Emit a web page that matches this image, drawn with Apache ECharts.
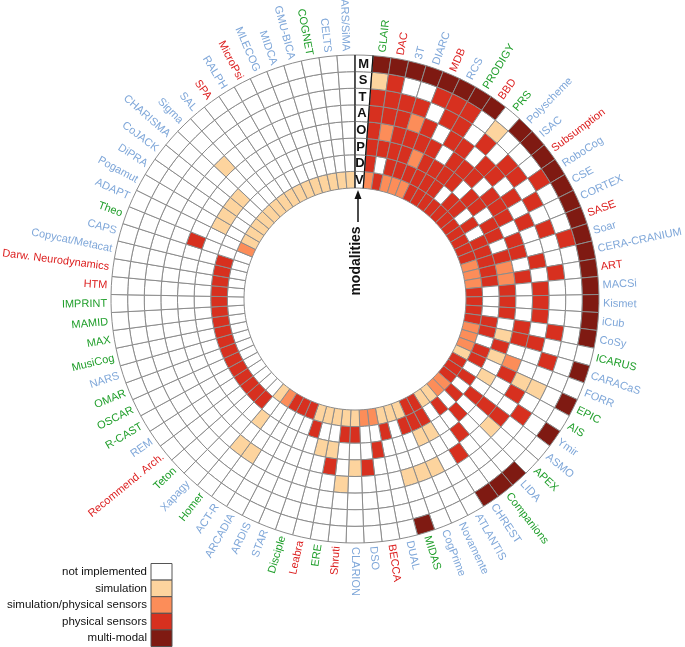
<!DOCTYPE html>
<html><head><meta charset="utf-8">
<script src="https://cdn.jsdelivr.net/npm/echarts@6/dist/echarts.min.js"></script>
<style>html,body{margin:0;padding:0;background:#fff}#c{width:685px;height:647px}</style>
</head><body><div id="c"></div>
<script>
// ---------------- data ----------------
const architectures = ['GLAIR','DAC','3T','DIARC','MDB','RCS','PRODIGY','BBD','PRS','Polyscheme','ISAC','Subsumption','RoboCog','CSE','CORTEX','SASE','Soar','CERA-CRANIUM','ART','MACSi','Kismet','iCub','CoSy','ICARUS','CARACaS','FORR','EPIC','AIS','Ymir','ASMO','APEX','LIDA','Companions','CHREST','ATLANTIS','Novamente','CogPrime','MIDAS','DUAL','BECCA','DSO','CLARION','Shruti','ERE','Leabra','Disciple','STAR','ARDIS','ARCADIA','ACT-R','Homer','Xapagy','Teton','Recommend. Arch.','REM','R-CAST','OSCAR','OMAR','NARS','MusiCog','MAX','MAMID','IMPRINT','HTM','Darw. Neurodynamics','Copycat/Metacat','CAPS','Theo','ADAPT','Pogamut','DiPRA','CoJACK','CHARISMA','Sigma','SAL','SPA','RALPH','MicroPsi','MLECOG','MIDCA','GMU-BICA','COGNET','CELTS','ARS/SiMA'];
// S = symbolic (green), E = emergent (red), H = hybrid (blue)
const archType = ['S','E','H','H','E','H','S','E','S','H','H','E','H','H','H','E','H','H','E','H','H','H','H','S','H','H','S','S','H','H','S','H','S','H','H','H','H','S','H','E','H','H','E','S','E','S','H','H','H','H','S','H','S','E','H','S','S','S','H','S','S','S','S','E','E','H','H','S','H','H','H','H','H','H','H','E','H','E','H','H','H','S','H','H'];
const modalities = ['V','D','P','O','A','T','S','M'];
const levelNames = ['not implemented','simulation','simulation/physical sensors','physical sensors','multi-modal'];
// levels per modality ring, one value per architecture (0..4)
const V = [2,3,2,2,2,3,3,3,3,3, 3,3,3,3,3,3,2,2,2,3, 3,3,3,2,2,2,1,3,3,3, 2,2,1,1,3,3,1,1,1,2, 2,1,1,1,1,1,3,3,3,2, 1,0,0,0,0,0,0,0,0,0, 0,0,0,0,0,0,0,0,2,1, 1,1,1,1,1,1,1,1,1,1, 1,1,1,1];
const D = [3,0,3,3,3,3,3,3,0,3, 3,0,3,0,3,3,3,3,3,0, 0,0,3,3,0,3,3,0,3,0, 3,0,3,0,3,3,3,0,3,0, 0,3,3,0,0,3,0,0,0,0, 0,3,3,3,3,3,3,3,3,3, 3,3,3,3,3,3,3,0,0,0, 0,0,0,0,0,0,0,0,0,0, 0,0,0,0];
const P = [3,3,3,3,2,3,3,3,3,0, 3,3,0,3,3,0,3,2,2,3, 3,3,0,1,3,1,0,1,0,3, 0,3,0,0,1,1,0,0,0,3, 0,0,0,1,1,0,0,0,0,0, 1,0,0,0,0,0,0,0,0,0, 0,0,0,0,0,0,0,0,0,1, 1,1,1,0,0,0,0,0,0,0, 0,0,0,0];
const O = [3,2,3,3,3,3,0,3,3,3, 0,3,3,3,0,3,3,0,3,0, 0,0,3,3,0,2,3,0,0,3, 0,0,3,0,0,0,0,0,0,0, 3,1,0,3,0,0,0,0,0,0, 0,0,0,0,0,0,0,0,0,0, 0,0,0,0,0,0,0,3,0,0, 0,0,0,0,0,0,0,0,0,0, 0,0,0,0];
const A = [3,3,3,2,3,0,3,3,0,3, 3,0,3,0,3,0,0,3,0,3, 3,3,0,3,0,0,1,3,0,3, 1,0,0,3,0,1,1,1,0,0, 0,0,1,0,0,0,0,0,0,1, 1,0,0,0,0,0,0,0,0,0, 0,0,0,0,0,0,0,0,0,0, 0,0,0,1,0,0,0,0,0,0, 0,0,0,0];
const T = [3,3,3,3,0,3,3,0,3,0, 3,3,0,3,0,3,0,0,3,0, 0,0,3,0,3,0,1,0,3,0, 0,0,0,0,0,0,0,0,0,0, 0,0,0,0,0,0,0,0,0,0, 0,0,0,0,0,0,0,0,0,0, 0,0,0,0,0,0,0,0,0,0, 0,0,0,0,0,0,0,0,0,0, 0,0,0,0];
const S = [1,3,0,0,3,3,3,0,1,0, 0,0,3,0,0,0,3,0,0,0, 0,0,0,0,0,0,0,0,0,0, 0,0,0,0,0,0,0,0,0,0, 0,0,0,0,0,0,0,0,0,0, 0,0,0,0,0,0,0,0,0,0, 0,0,0,0,0,0,0,0,0,0, 0,0,0,0,0,0,0,0,0,0, 0,0,0,0];
const M = [4,4,4,4,4,4,4,4,0,4, 4,4,4,4,4,4,4,4,4,4, 4,4,4,0,4,0,4,0,4,0, 0,4,4,4,0,0,0,4,0,0, 0,0,0,0,0,0,0,0,0,0, 0,0,0,0,0,0,0,0,0,0, 0,0,0,0,0,0,0,0,0,0, 0,0,0,0,0,0,0,0,0,0, 0,0,0,0];

// ---------------- styles ----------------
const levelColors = ['#ffffff','#fdd49e','#fc8d59','#d7301f','#7f1a12'];
const typeColors = {S:'#1f9e2a', E:'#dc1e1e', H:'#7fa7d9'};
const FONT = '"Liberation Sans", Arial, Helvetica, sans-serif';
const rings = [V,D,P,O,A,T,S,M];
const nSectors = architectures.length + 1;   // +1 for the modality label column

const cellData = [];
rings.forEach((arr, r) => arr.forEach((lvl, k) => cellData.push([r, k + 1, lvl])));
const labelColData = modalities.map((m, r) => [r, 0, r]);
const nameData = architectures.map((n, k) => [8, k + 1.5, k]);

function polarInfo(api, params, rv, av) {
  const p = api.coord([rv, av]);
  const cs = params.coordSys;
  const dx = p[0] - cs.cx, dy = p[1] - cs.cy;
  return { x: p[0], y: p[1], r: Math.hypot(dx, dy), a: Math.atan2(dy, dx) };
}
function sectorShape(api, params, r, a) {
  const p0 = polarInfo(api, params, r, a);
  const p1 = polarInfo(api, params, r + 1, a + 1);
  let sa = p0.a, ea = p1.a;
  if (ea < sa) ea += Math.PI * 2;
  return { cx: params.coordSys.cx, cy: params.coordSys.cy, r0: p0.r, r: p1.r, startAngle: sa, endAngle: ea, clockwise: true };
}

const chart = echarts.init(document.getElementById('c'), null, { renderer: 'canvas' });
chart.setOption({
  backgroundColor: '#ffffff',
  animation: false,
  polar: { center: [355, 299], radius: [111, 244] },
  angleAxis: { type: 'value', min: 0, max: nSectors, startAngle: 90, clockwise: true, show: false },
  radiusAxis: { type: 'value', min: 0, max: rings.length, show: false },
  series: [
    {
      type: 'custom', coordinateSystem: 'polar', data: cellData, silent: true,
      renderItem: function (params, api) {
        const r = api.value(0), a = api.value(1), lvl = api.value(2);
        return { type: 'sector', shape: sectorShape(api, params, r, a),
          style: { fill: levelColors[lvl], stroke: '#8c8c8c', lineWidth: 1 } };
      }
    },
    {
      type: 'custom', coordinateSystem: 'polar', data: labelColData, silent: true,
      renderItem: function (params, api) {
        const r = api.value(0), a = api.value(1);
        const c = polarInfo(api, params, r + 0.5, a + 0.5);
        const i0 = polarInfo(api, params, r, a), o0 = polarInfo(api, params, r + 1, a);
        const i1 = polarInfo(api, params, r, a + 1), o1 = polarInfo(api, params, r + 1, a + 1);
        return { type: 'group', children: [
          { type: 'sector', shape: sectorShape(api, params, r, a),
            style: { fill: '#ffffff', stroke: '#8c8c8c', lineWidth: 1 } },
          { type: 'line', shape: { x1: i0.x, y1: i0.y, x2: o0.x, y2: o0.y }, style: { stroke: '#111', lineWidth: 1.2 } },
          { type: 'line', shape: { x1: i1.x, y1: i1.y, x2: o1.x, y2: o1.y }, style: { stroke: '#111', lineWidth: 1.2 } },
          { type: 'text', x: c.x, y: c.y + 0.5,
            style: { text: modalities[r], fill: '#111', font: 'bold 13px ' + FONT,
              align: 'center', verticalAlign: 'middle', textAlign: 'center', textVerticalAlign: 'middle' } }
        ] };
      }
    },
    {
      type: 'custom', coordinateSystem: 'polar', data: nameData, silent: true,
      renderItem: function (params, api) {
        const k = params.dataIndex;
        const p = polarInfo(api, params, api.value(0), api.value(1));
        const rr = p.r + 4;
        const x = params.coordSys.cx + rr * Math.cos(p.a);
        const y = params.coordSys.cy + rr * Math.sin(p.a);
        const right = Math.cos(p.a) >= -1e-6;
        const rot = right ? -p.a : Math.PI - p.a;
        const al = right ? 'left' : 'right';
        return { type: 'text', x: x, y: y, rotation: rot,
          style: { text: architectures[k], fill: typeColors[archType[k]], font: '11px ' + FONT,
            align: al, verticalAlign: 'middle', textAlign: al, textVerticalAlign: 'middle' } };
      }
    }
  ],
  graphic: [
    { type: 'text', x: 356, y: 261, rotation: Math.PI / 2,
      style: { text: 'modalities', fill: '#111', font: 'bold 14px ' + FONT, align: 'center', verticalAlign: 'middle', textAlign: 'center', textVerticalAlign: 'middle' } },
    { type: 'line', shape: { x1: 358, y1: 222, x2: 358, y2: 197 }, style: { stroke: '#111', lineWidth: 1.5 } },
    { type: 'polygon', shape: { points: [[358, 190], [354.5, 199], [361.5, 199]] }, style: { fill: '#111' } }
  ].concat(levelNames.flatMap((n, i) => [
    { type: 'rect', shape: { x: 151, y: 563.5 + i * 16.6, width: 21, height: 16.6 },
      style: { fill: levelColors[i], stroke: '#555', lineWidth: 1 } },
    { type: 'text', x: 147, y: 563.5 + i * 16.6 + 8.3,
      style: { text: n, fill: '#111', font: '11.5px ' + FONT, align: 'right', verticalAlign: 'middle', textAlign: 'right', textVerticalAlign: 'middle' } }
  ]))
});
</script></body></html>
